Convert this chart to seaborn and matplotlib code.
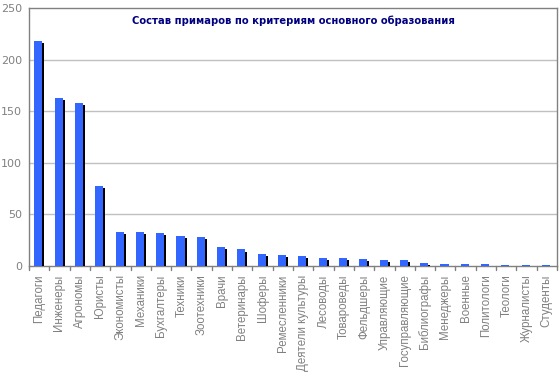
import matplotlib
matplotlib.use("Agg")
import matplotlib.pyplot as plt
import matplotlib.patheffects as pe
import seaborn as sns
import pandas as pd

categories = ["Педагоги", "Инженеры", "Агрономы", "Юристы", "Экономисты", "Механики",
              "Бухгалтеры", "Техники", "Зоотехники", "Врачи", "Ветеринары", "Шоферы",
              "Ремесленники", "Деятели культуры", "Лесоводы", "Товароведы", "Фельдшеры",
              "Управляющие", "Госуправляющие", "Библиографы", "Менеджеры", "Военные",
              "Политологи", "Теологи", "Журналисты", "Студенты"]
values = [218, 163, 158, 78, 33, 33, 32, 29, 28, 18, 16, 12,
          11, 10, 8, 8, 7, 6, 6, 3, 2, 2, 2, 1, 1, 1]
title = "Состав примаров по критериям основного образования"
yticks = [0, 50, 100, 150, 200, 250]

df = pd.DataFrame({"cat": categories, "val": values})

sns.set_style("white")
plt.rcParams["font.family"] = ["DejaVu Sans"]

fig = plt.figure(figsize=(5.6, 3.75), dpi=100)
ax = fig.add_axes([29/560, 1-266/375, (557-29)/560, (266-8)/375])

sns.barplot(data=df, x="cat", y="val", color="#3366FF", saturation=1, width=0.4,
            ax=ax, zorder=3)
for p in ax.patches:
    p.set_linewidth(0)
    p.set_x(p.get_x() - 0.04)
    p.set_path_effects([pe.SimplePatchShadow(offset=(1.45, -1.45), shadow_rgbFace="black",
                                             alpha=1.0), pe.Normal()])

ax.set_ylim(0, 250)
ax.set_xlim(-0.5, len(categories) - 0.5)
ax.set_yticks(yticks)
ax.set_yticklabels([str(v) for v in yticks], color="#808080", fontsize=8)
ax.set_xticks(range(len(categories)))
ax.set_xticklabels(categories, rotation=90, color="#808080", fontsize=8.3,
                   family="Liberation Sans")
ax.tick_params(axis="x", length=0, pad=6)
ax.tick_params(axis="y", length=4, color="#808080", width=1, direction="out", pad=1)
# tick marks between categories
for i in range(len(categories) + 1):
    ax.plot([i - 0.5, i - 0.5], [0, -4 * 250 / 258], color="#808080", lw=1,
            clip_on=False, zorder=4)

for y in yticks[1:-1]:
    ax.axhline(y, color="#C0C0C0", lw=1, zorder=1)
for s in ax.spines.values():
    s.set_color("#808080")
    s.set_linewidth(1)
    s.set_visible(True)

ax.set_xlabel("")
ax.set_ylabel("")
ax.text(0.5, 0.95, title, transform=ax.transAxes, ha="center", va="center",
        fontsize=7.2, fontweight="bold", color="#000080")

fig.savefig("out.png", dpi=100)
